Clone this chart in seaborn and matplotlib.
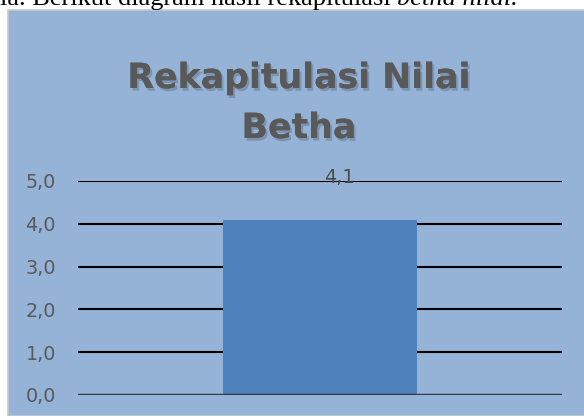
import matplotlib
matplotlib.use("Agg")
import matplotlib.pyplot as plt
import matplotlib.patheffects as pe
from matplotlib.patches import Rectangle
import pandas as pd
import seaborn as sns

# chart data
categories = [""]
values = [4.1]
value_labels = ["4,1"]
y_ticks = [0, 1, 2, 3, 4, 5]
y_tick_labels = ["0,0", "1,0", "2,0", "3,0", "4,0", "5,0"]
title_lines = ["Rekapitulasi Nilai", "Betha"]

BG = "#95b3d7"
BAR = "#4f81bd"
TEXT = "#595959"

df = pd.DataFrame({"kategori": categories, "nilai": values})

sns.set_style("white")
plt.rcParams["font.family"] = ["DejaVu Sans"]

W, H = 584, 416
fig = plt.figure(figsize=(W / 100, H / 100), dpi=100, facecolor="white")

# chart area box (the document page is white above it)
box = Rectangle((8 / W, 0), 1, (H - 10) / H, transform=fig.transFigure,
                facecolor=BG, edgecolor="#c8c8c8", linewidth=1.2, zorder=-5)
fig.add_artist(box)

# line of document text above the chart, cut off by the page crop
t1 = fig.text(0, 1 - 5 / H, "la. Berikut diagram hasil rekapitulasi ", family="Liberation Serif",
              fontsize=19, va="baseline", ha="left", color="black")
fig.canvas.draw()
x_end = t1.get_window_extent().x1 / W
fig.text(x_end, 1 - 5 / H, "betha nilai.", family="Liberation Serif", style="italic",
         fontsize=19, va="baseline", ha="left", color="black")

left, right = 78 / W, 562 / W
bottom, top = (H - 395) / H, (H - 181) / H
ax = fig.add_axes([left, bottom, right - left, top - bottom])
ax.set_facecolor("none")
ax.set_zorder(2)

sns.barplot(data=df, x="kategori", y="nilai", color=BAR, width=0.4, saturation=1,
            linewidth=0, ax=ax, zorder=3)
ax.set_xlim(-0.5, 0.5)
ax.set_ylim(0, 5)
ax.set_yticks(y_ticks)
ax.set_yticklabels(y_tick_labels, color=TEXT, fontsize=13.8)
ax.tick_params(axis="y", length=0, pad=16)
ax.set_xticks([])
ax.set_xlabel("")
ax.set_ylabel("")
for s in ax.spines.values():
    s.set_visible(False)

for t in y_ticks[1:]:
    ax.axhline(t, color="black", linewidth=1.5, zorder=1)
ax.axhline(0, color="#333d4a", linewidth=2.5, zorder=4)

for bar, lab in zip(ax.patches, value_labels):
    ax.text(bar.get_x() + bar.get_width() / 2 + 0.04, bar.get_height() + 0.99, lab,
            ha="center", va="center", color="#4a4a4a", fontsize=13.8, clip_on=False,
            zorder=5)

shadow = [pe.withSimplePatchShadow(offset=(1.5, -2), shadow_rgbFace="#5f6f86", alpha=0.45),
          pe.Normal()]
for line, y_px in zip(title_lines, [78, 128]):
    fig.text(299 / W, 1 - y_px / H, line, ha="center", va="center", fontsize=25,
             fontweight="bold", color=TEXT, zorder=5, path_effects=shadow)

fig.savefig("out.png", dpi=100, facecolor="white")
